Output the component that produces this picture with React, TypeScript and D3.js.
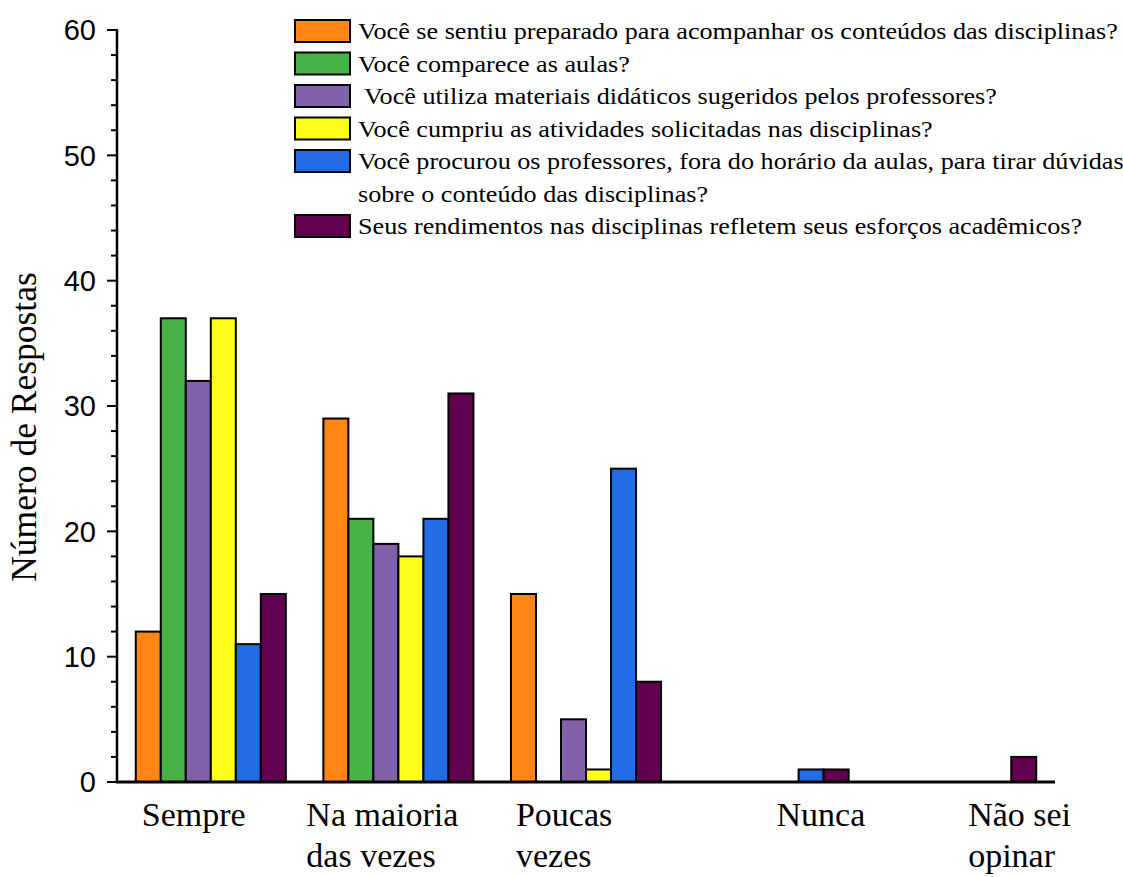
import React from "react";
import * as d3 from "d3";

const categories = ["Sempre", "Na maioria das vezes", "Poucas vezes", "Nunca", "Não sei opinar"];
const categoryLines = [["Sempre"], ["Na maioria", "das vezes"], ["Poucas", "vezes"], ["Nunca"], ["Não sei", "opinar"]];
const seriesNames = [
  "Você se sentiu preparado para acompanhar os conteúdos das disciplinas?",
  "Você comparece as aulas?",
  " Você utiliza materiais didáticos sugeridos pelos professores?",
  "Você cumpriu as atividades solicitadas nas disciplinas?",
  "Você procurou os professores, fora do horário da aulas, para tirar dúvidas|sobre o conteúdo das disciplinas?",
  "Seus rendimentos nas disciplinas refletem seus esforços acadêmicos?",
];
const preparado = [12, 29, 15, 0, 0];
const comparece = [37, 21, 0, 0, 0];
const materiais = [32, 19, 5, 0, 0];
const atividades = [37, 18, 1, 0, 0];
const procurou = [11, 21, 25, 1, 0];
const rendimentos = [15, 31, 8, 1, 2];
const seriesValues = [preparado, comparece, materiais, atividades, procurou, rendimentos];
const colors = ["#FF8616", "#48B247", "#8162AA", "#FDFD1C", "#236CE3", "#60004F"];
const yTicks = [0, 10, 20, 30, 40, 50, 60];
const yMinor = d3.range(0, 61, 2);
// label horizontal offset from group start (layout)
const labelOffsets = [6, -17, 5, 78, 82];

export default function App() {
  const W = 1123, H = 877;
  const left = 117, right = 1055, top = 30, bottom = 782;
  const y = d3.scaleLinear().domain([0, 60]).range([bottom, top]);
  const x0 = d3.scaleBand<string>().domain(categories).range([left, right]).paddingInner(0.2).paddingOuter(0.1);
  const x1 = d3.scaleBand<number>().domain(d3.range(seriesValues.length)).range([0, x0.bandwidth()]);
  const serif = "'Liberation Serif', 'Times New Roman', serif";
  const sans = "'Liberation Sans', Arial, sans-serif";

  const legendY0 = 31;
  const legendStep = 32.5;
  const legendTextX = 358;
  const legendStretch = 1.09;
  let row = 0;
  const legendRows: { i: number; lines: string[]; row: number }[] = [];
  seriesNames.forEach((n, i) => {
    const lines = n.split("|");
    legendRows.push({ i, lines, row });
    row += lines.length;
  });

  return (
    <svg width={W} height={H} style={{ position: "absolute", left: 0, top: 0, background: "#fff" }}>
      <rect width={W} height={H} fill="#fff" />
      {/* bars */}
      {seriesValues.map((vals, si) =>
        vals.map((v, ci) =>
          v > 0 ? (
            <rect
              key={`${si}-${ci}`}
              x={(x0(categories[ci]) as number) + (x1(si) as number)}
              y={y(v)}
              width={x1.bandwidth()}
              height={y(0) - y(v)}
              fill={colors[si]}
              stroke="#000"
              strokeWidth={2}
            />
          ) : null
        )
      )}
      {/* y axis */}
      <line x1={left} x2={left} y1={top - 1} y2={bottom} stroke="#000" strokeWidth={2.5} />
      {yMinor.map((t) => (
        <line key={`m${t}`} x1={left - (t % 10 === 0 ? 10 : 6)} x2={left} y1={y(t)} y2={y(t)} stroke="#000" strokeWidth={2} />
      ))}
      {yTicks.map((t) => (
        <text key={`t${t}`} x={96} y={y(t)} dy="0.36em" textAnchor="end" fontFamily={sans} fontSize={29} fill="#000">
          {t}
        </text>
      ))}
      {/* x axis */}
      <line x1={left - 1} x2={right} y1={bottom} y2={bottom} stroke="#000" strokeWidth={3} />
      {categoryLines.map((lines, ci) => (
        <text key={`c${ci}`} fontFamily={serif} fontSize={34} fill="#000">
          {lines.map((l, li) => (
            <tspan key={li} x={(x0(categories[ci]) as number) + labelOffsets[ci]} y={826 + li * 41}>
              {l}
            </tspan>
          ))}
        </text>
      ))}
      <text
        transform={`translate(36, ${(top + bottom) / 2 + 21}) rotate(-90)`}
        textAnchor="middle"
        fontFamily={serif}
        fontSize={35.5}
        fill="#000"
      >
        Número de Respostas
      </text>
      {/* legend */}
      {legendRows.map(({ i, lines, row }) => (
        <g key={`l${i}`}>
          <rect x={295} y={legendY0 + row * legendStep - 11} width={55} height={22} fill={colors[i]} stroke="#000" strokeWidth={2} />
          {lines.map((l, li) => (
            <text
              key={li}
              transform={`translate(${legendTextX}, ${legendY0 + (row + li) * legendStep}) scale(${legendStretch}, 1)`}
              dy="0.34em"
              fontFamily={serif}
              fontSize={24}
              fill="#000"
              style={{ whiteSpace: "pre" }}
            >
              {l}
            </text>
          ))}
        </g>
      ))}
    </svg>
  );
}
